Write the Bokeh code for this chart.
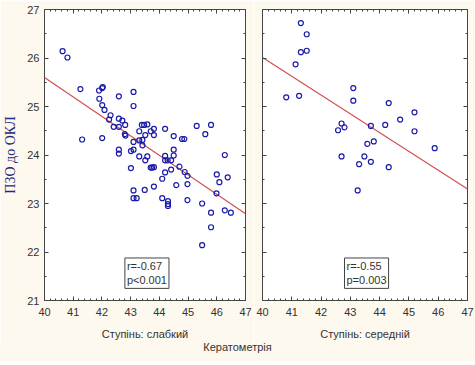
from bokeh.plotting import figure
from bokeh.models import Label, FixedTicker, Range1d, Div, LinearAxis
from bokeh.layouts import row, column
from bokeh.embed import file_html
from bokeh.resources import INLINE

# ---------------- data ----------------
x_ticks = [40, 41, 42, 43, 44, 45, 46, 47]
y_ticks = [21, 22, 23, 24, 25, 26, 27]

mild_x = [40.63, 40.80, 41.25, 41.31, 41.90, 42.01, 42.03, 41.91, 42.01, 42.09,
          42.01, 42.30, 42.25, 42.41, 42.59, 42.59, 42.71, 42.59, 42.81, 42.80,
          42.82, 43.10, 43.10, 42.59, 42.59, 43.01, 43.10, 43.10, 43.30, 43.39,
          43.47, 43.58, 43.51, 43.30, 43.41, 43.41, 43.70, 43.81, 43.81, 43.30,
          43.58, 43.51, 43.01, 43.70, 43.75, 43.81, 44.20, 44.20, 44.20, 44.29,
          44.41, 44.50, 44.50, 44.50, 44.20, 44.41, 44.70, 44.79, 44.87, 45.30,
          45.60, 45.80, 46.28, 44.88, 44.98, 46.00, 46.38, 44.10, 43.10, 43.10,
          43.21, 43.49, 43.81, 44.10, 44.30, 44.30, 44.30, 44.59, 44.98, 44.98,
          45.49, 45.80, 45.80, 45.49, 46.09, 45.99, 46.28, 46.49]
mild_y = [26.14, 26.01, 25.36, 24.32, 25.33, 25.38, 25.40, 25.16, 25.03, 24.93,
          24.35, 24.82, 24.73, 24.58, 25.21, 24.75, 24.71, 24.58, 24.62, 24.43,
          24.40, 25.30, 25.01, 24.11, 24.03, 24.08, 24.11, 24.27, 24.49, 24.62,
          24.62, 24.63, 24.41, 24.30, 24.20, 24.31, 24.49, 24.54, 24.41, 23.97,
          23.97, 23.89, 23.73, 23.74, 23.74, 23.75, 24.54, 23.98, 23.89, 23.89,
          23.89, 24.11, 23.99, 24.39, 23.64, 23.70, 23.76, 24.33, 24.33, 24.60,
          24.43, 24.62, 24.00, 23.65, 23.57, 23.60, 23.54, 23.51, 23.27, 23.11,
          23.11, 23.28, 23.35, 23.11, 23.05, 22.99, 22.95, 23.38, 23.40, 23.07,
          23.00, 22.81, 22.51, 22.14, 23.44, 23.21, 22.86, 22.81]

medium_x = [41.31, 41.51, 41.31, 41.51, 41.13, 40.81, 41.25, 43.10, 43.10, 44.31,
            45.19, 44.70, 44.19, 43.70, 42.70, 42.80, 42.58, 45.19, 43.80, 43.58,
            45.88, 42.70, 43.48, 43.70, 43.30, 44.31, 43.25]
medium_y = [26.72, 26.49, 26.12, 26.15, 25.87, 25.19, 25.22, 25.38, 25.12, 25.07,
            24.88, 24.73, 24.62, 24.60, 24.65, 24.57, 24.51, 24.49, 24.28, 24.23,
            24.14, 23.97, 23.97, 23.86, 23.81, 23.75, 23.27]

fit_x = [40, 47]
mild_fit_y = [25.60, 22.79]
medium_fit_y = [26.01, 23.30]

mild_stats = "r=-0.67\np<0.001"
medium_stats = "r=-0.55\np=0.003"
mild_title = "Ступінь: слабкий"
medium_title = "Ступінь: середній"
x_title = "Кератометрія"
y_title = "ПЗО до ОКЛ"

# ---------------- style ----------------
CREAM = "#fdf9ee"
FRAME = "#444444"
TXT = "#333333"
FONT = "Liberation Sans"
PT_COLOR = "#1a1aa8"
LINE_COLOR = "#d05050"

x_minor = [40 + i * 0.2 for i in range(36)]
y_minor = [21 + i * 0.5 for i in range(13)]

FIG_H = 344


def style_axis(ax, ticks, minor, labels=True):
    ax.ticker = FixedTicker(ticks=ticks, minor_ticks=minor)
    ax.axis_line_color = None
    ax.major_tick_in = 4
    ax.major_tick_out = 0
    ax.minor_tick_in = 2
    ax.minor_tick_out = 0
    ax.major_tick_line_color = FRAME
    ax.minor_tick_line_color = FRAME
    ax.major_label_text_font = FONT
    if labels:
        ax.major_label_text_color = TXT
        ax.major_label_text_font_size = "11px"
        ax.major_label_standoff = 7
    else:
        ax.major_label_text_color = None
        ax.major_label_text_font_size = "1px"
        ax.major_label_standoff = 0


def make_panel(xs, ys, fit_y, stats, title, width, left, right, show_y):
    p = figure(width=width, height=FIG_H, output_backend="svg", toolbar_location=None,
               x_range=Range1d(40, 47), y_range=Range1d(21, 27),
               min_border_left=left, min_border_right=right,
               min_border_top=9, min_border_bottom=44)
    p.background_fill_color = "white"
    p.border_fill_color = CREAM
    p.outline_line_color = FRAME
    p.outline_line_width = 1
    p.grid.visible = False

    xa = p.xaxis[0]
    style_axis(xa, x_ticks, x_minor)
    xa.axis_label = title
    xa.axis_label_text_font = FONT
    xa.axis_label_text_font_size = "11px"
    xa.axis_label_text_font_style = "normal"
    xa.axis_label_text_color = TXT
    xa.axis_label_standoff = 9

    ya = p.yaxis[0]
    if show_y:
        style_axis(ya, y_ticks, y_minor)
        ya.major_label_standoff = 5
        ya.axis_label = y_title
        ya.axis_label_text_font = "Liberation Serif"
        ya.axis_label_text_font_size = "14px"
        ya.axis_label_text_font_style = "normal"
        ya.axis_label_text_color = "#1f2a80"
        ya.axis_label_standoff = 6
    else:
        style_axis(ya, y_ticks, y_minor, labels=False)

    top = LinearAxis()
    style_axis(top, x_ticks, x_minor, labels=False)
    p.add_layout(top, "above")
    rgt = LinearAxis()
    style_axis(rgt, y_ticks, y_minor, labels=False)
    p.add_layout(rgt, "right")

    p.line(fit_x, fit_y, line_color=LINE_COLOR, line_width=1.2)
    p.scatter(xs, ys, marker="circle", size=5, fill_color=None,
              line_color=PT_COLOR, line_width=1.2)

    lab = Label(x=42.8, y=21.25, text=stats, text_font=FONT, text_font_size="11px",
                text_color=TXT, text_align="left", text_baseline="bottom",
                background_fill_color="white", border_line_color=FRAME,
                border_line_width=1, padding=2)
    p.add_layout(lab)
    return p


p1 = make_panel(mild_x, mild_y, mild_fit_y, mild_stats, mild_title, 253, 40, 8, True)
p2 = make_panel(medium_x, medium_y, medium_fit_y, medium_stats, medium_title, 222, 9, 8, False)

div = Div(text=('<div style="width:475px;text-align:center;">' + x_title + '</div>'),
          width=475, height=17, margin=0,
          styles={"background-color": CREAM, "text-align": "center",
                  "font-family": "Liberation Sans", "font-size": "11px",
                  "color": TXT, "line-height": "6px"})

layout = column(row(p1, p2, spacing=0), div, spacing=0)

open("out.html", "w").write(file_html(layout, INLINE))
